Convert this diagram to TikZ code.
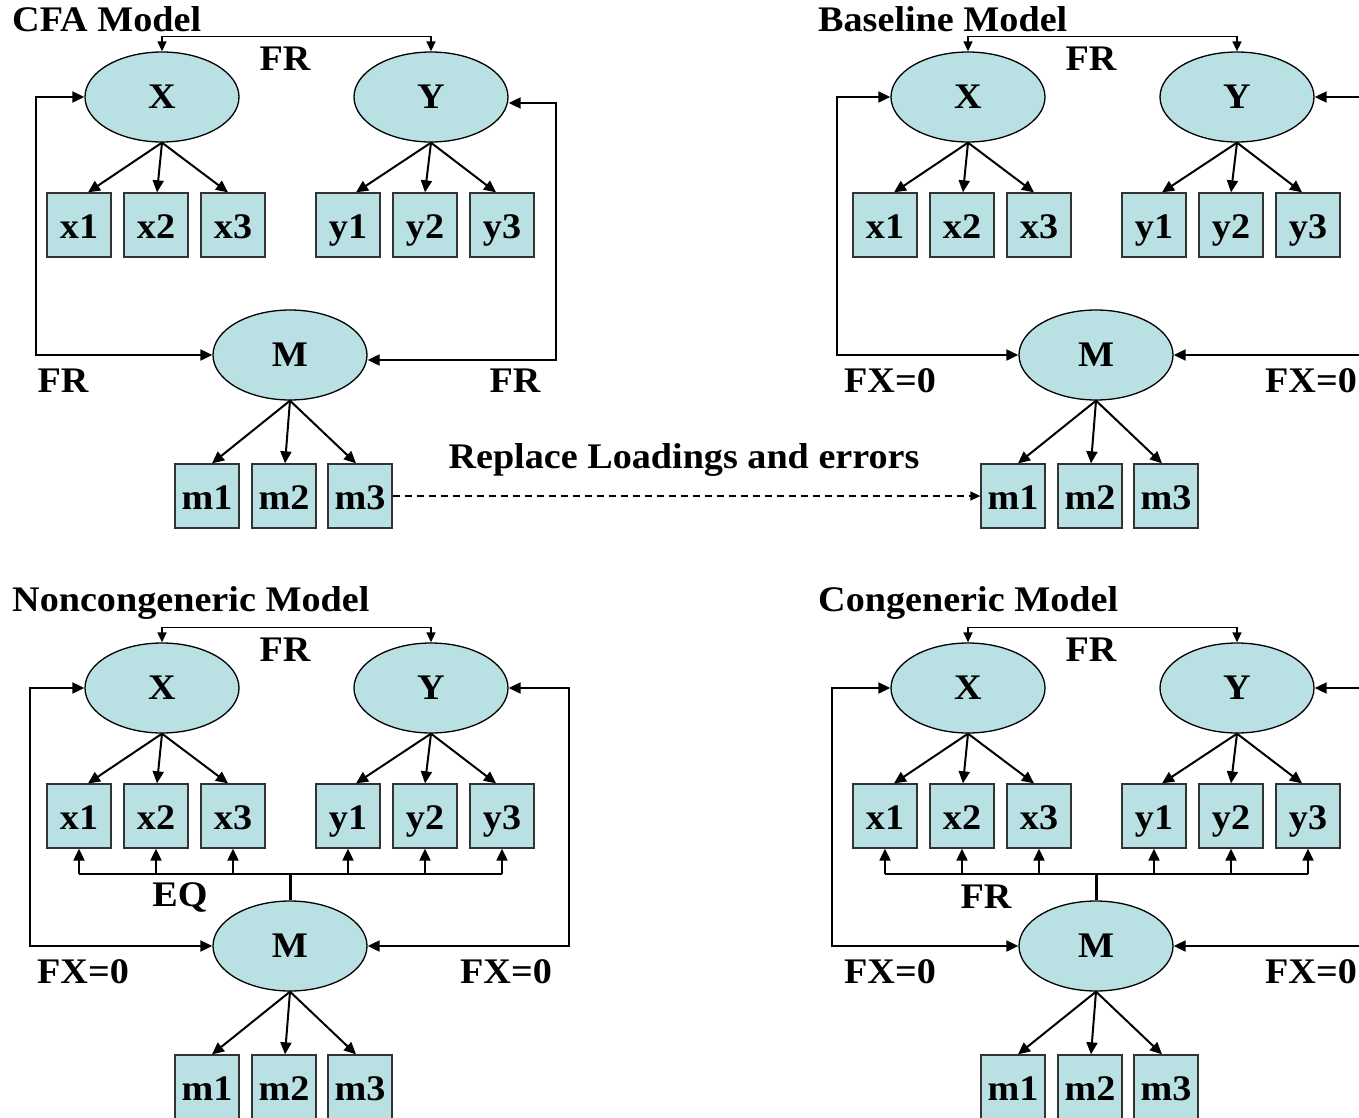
\documentclass[tikz,border=0pt]{standalone}
\usepackage{fontspec}
\setmainfont[FakeStretch=1.06]{Liberation Serif}
\usetikzlibrary{arrows.meta,shapes.geometric}
\definecolor{semfill}{HTML}{B9E0E3}
\tikzset{
 lat/.style={ellipse,draw=black,line width=1.3pt,fill=semfill,minimum width=154pt,minimum height=90pt,inner sep=0pt,font=\fontsize{36}{40}\selectfont\bfseries},
 obs/.style={rectangle,draw=black!80,line width=1.3pt,fill=semfill,minimum width=64pt,minimum height=64pt,inner sep=0pt,text height=30pt,text depth=4pt,font=\fontsize{36}{40}\selectfont\bfseries},
 lbl/.style={font=\fontsize{36}{40}\selectfont\bfseries,inner sep=0pt},
 ttl/.style={font=\fontsize{36}{40}\selectfont\bfseries,inner sep=0pt,anchor=base west},
 conn/.style={line width=2pt,-{Triangle[length=12pt,width=11pt]}},
 loopline/.style={line width=2pt,{Triangle[length=12pt,width=11pt]}-{Triangle[length=12pt,width=11pt]}},
 covline/.style={line width=1.5pt,{Triangle[length=10pt,width=9pt]}-{Triangle[length=10pt,width=9pt]}},
 busline/.style={line width=2pt},
 stemline/.style={line width=3pt},
 dashline/.style={line width=1.5pt,dash pattern=on 7pt off 5pt,-{Triangle[length=10pt,width=9pt]}},
}
\newcommand\semcore[3]{%
 \begin{scope}[shift={(#2,#3)}]
 \node[lat] (#1X) at (162,97) {X};
 \node[lat] (#1Y) at (431,97) {Y};
 \node[lat] (#1M) at (290,355) {M};
 \foreach \n/\xx in {x1/79,x2/156,x3/233,y1/348,y2/425,y3/502}
   \node[obs] (#1\n) at (\xx,225) {\n};
 \foreach \n/\xx in {m1/207,m2/284,m3/360}
   \node[obs] (#1\n) at (\xx,496) {\n};
 \draw[conn] (#1X.south) -- ([xshift=9pt]#1x1.north);
 \draw[conn] (#1X.south) -- ([xshift=1pt]#1x2.north);
 \draw[conn] (#1X.south) -- ([xshift=-5pt]#1x3.north);
 \draw[conn] (#1Y.south) -- ([xshift=8pt]#1y1.north);
 \draw[conn] (#1Y.south) -- (#1y2.north);
 \draw[conn] (#1Y.south) -- ([xshift=-6pt]#1y3.north);
 \draw[conn] (#1M.south) -- ([xshift=5pt]#1m1.north);
 \draw[conn] (#1M.south) -- ([xshift=1pt]#1m2.north);
 \draw[conn] (#1M.south) -- ([xshift=-4pt]#1m3.north);
 \draw[covline] (#1X.north) -- ++(0,-15) -| (#1Y.north);
 \node[lbl] (#1fr) at (285,59) {FR};
 \end{scope}}
\newcommand\sembus[4]{% prefix, xshift, yshift, label
 \begin{scope}[shift={(#2,#3)}]
 \coordinate (#1bus) at (290,283);
 \draw[stemline] (#1M.north) -- (#1bus);
 \draw[busline] (#1x1.south |- #1bus) -- (#1y3.south |- #1bus);
 \foreach \n in {x1,x2,x3,y1,y2,y3}
   \draw[conn] (#1\n.south |- #1bus) -- (#1\n.south);
 \node[lbl] (#1buslbl) at (180,306) {#4};
 \end{scope}}
\begin{document}
\begin{tikzpicture}[x=1pt,y=-1pt]
\useasboundingbox (0,0) rectangle (1359,1118);
\clip (0,0) rectangle (1359,1118);
\fill[white] (0,0) rectangle (1359,1118);

% CFA model
\semcore{a}{0}{0}
\node[ttl] (at) at (12,32) {CFA Model};
\draw[loopline] (aX.west) -- ++(-48,0) |- (aM.west);
\draw[loopline] ([yshift=-6pt]aY.east) -- ++(47,0) |- ([yshift=-5pt]aM.east);
\node[lbl] (afrl) at (63,381) {FR};
\node[lbl] (afrr) at (515,381) {FR};

% Baseline model
\semcore{b}{806}{0}
\node[ttl] (bt) at (818,32) {Baseline Model};
\draw[loopline] (bX.west) -- ++(-53,0) |- (bM.west);
\draw[loopline] (bY.east) -- ++(52,0) |- (bM.east);
\node[lbl] (bfxl) at (890,381) {FX=0};
\node[lbl] (bfxr) at (1311,381) {FX=0};

% dashed replacement arrow
\draw[dashline] (am3.east) -- (bm1.west);
\node[lbl] (repl) at (684,460) {Replace Loadings and errors};

% Noncongeneric model
\semcore{c}{0}{591}
\node[ttl] (ct) at (12,611) {Noncongeneric Model};
\draw[loopline] (cX.west) -- ++(-54,0) |- (cM.west);
\draw[loopline] (cY.east) -- ++(60,0) |- (cM.east);
\sembus{c}{0}{591}{EQ}
\node[lbl] (cfxl) at (83,972) {FX=0};
\node[lbl] (cfxr) at (506,972) {FX=0};

% Congeneric model
\semcore{d}{806}{591}
\node[ttl] (dt) at (818,611) {Congeneric Model};
\draw[loopline] (dX.west) -- ++(-58,0) |- (dM.west);
\draw[loopline] (dY.east) -- ++(52,0) |- (dM.east);
\sembus{d}{806}{591}{FR}
\node[lbl] (dfxl) at (890,972) {FX=0};
\node[lbl] (dfxr) at (1311,972) {FX=0};
\end{tikzpicture}
\end{document}
